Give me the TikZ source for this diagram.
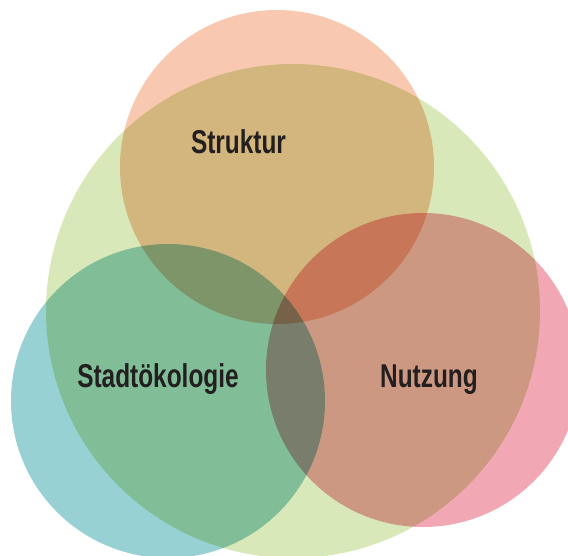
\documentclass[tikz,border=0pt]{standalone}
\usepackage{fontspec}
\setmainfont{Liberation Sans}
\newfontfamily\labelfont[FakeStretch=0.74]{Liberation Sans}
\definecolor{cgreen}{HTML}{D9E8B8}
\definecolor{corange}{HTML}{F8C9B0}
\definecolor{cteal}{HTML}{98D1D3}
\definecolor{cpink}{HTML}{F1A8B4}
\definecolor{ctext}{HTML}{231F20}
\tikzset{
  lbl/.style={anchor=base, inner sep=0pt, text=ctext, font=\labelfont\bfseries\fontsize{33}{33}\selectfont}
}
\begin{document}
\begin{tikzpicture}[x=1pt,y=-1pt]
\useasboundingbox (0,0) rectangle (568,555);
\begin{scope}
\clip (0,0) rectangle (568,555);
\begin{scope}[blend group=multiply]
\fill[cgreen] (293,311) circle[radius=247];
\fill[corange] (277,167) circle[radius=157];
\fill[cteal] (168,401) circle[radius=157];
\fill[cpink] (423,370) circle[radius=157];
\end{scope}
\end{scope}
\node[lbl] (struktur) at (238.5,153) {Struktur};
\node[lbl] (stadt) at (158,387) {Stadtökologie};
\node[lbl] (nutzung) at (429,387) {Nutzung};
\end{tikzpicture}
\end{document}
